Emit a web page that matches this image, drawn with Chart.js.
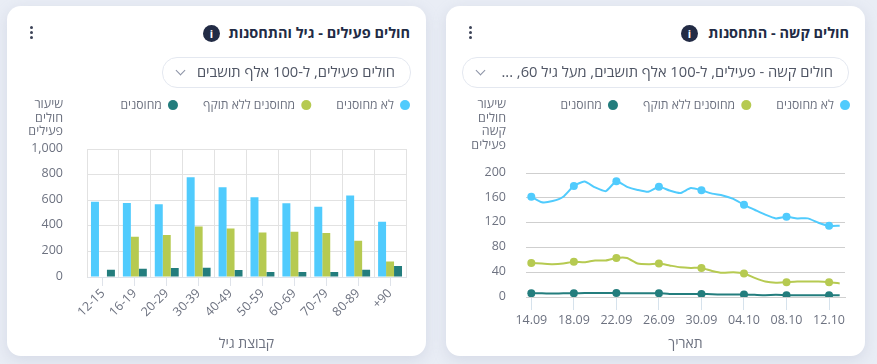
<!DOCTYPE html>
<html lang="he">
<head>
<meta charset="utf-8">
<script src="https://cdn.jsdelivr.net/npm/chart.js@4"></script>
<style>
html,body{margin:0;padding:0}
body{width:877px;height:364px;overflow:hidden;background:#e9edf5;font-family:"Open Sans",sans-serif;position:relative}
.card{position:absolute;top:6px;width:419px;height:350px;background:#fff;border-radius:14px;box-shadow:0 4px 14px rgba(160,170,195,.28)}
.abs{position:absolute}
.title{top:17px;font-size:14.5px;font-weight:700;color:#222b45;direction:rtl;white-space:nowrap;line-height:20px}
.info{top:19px;width:17px;height:17px;border-radius:50%;background:#222b45;color:#fff;font-size:11px;font-weight:700;line-height:17px;text-align:center}
.dot{width:3.4px;height:3.4px;border-radius:50%;background:#3d4458}
.pill{top:51px;height:29px;border:1px solid #e4e8f0;border-radius:15px;background:#fff;direction:rtl;color:#4f5564;font-size:14.7px;line-height:27px;white-space:nowrap;z-index:3}
.chev{width:6px;height:6px;border-right:1.3px solid #8b92a5;border-bottom:1.3px solid #8b92a5;transform:rotate(45deg);top:67px;z-index:4}
.ytitle{direction:rtl;text-align:right;color:#6d7280;font-size:12.5px;line-height:13.6px;top:97px;white-space:nowrap;z-index:5}
canvas{position:absolute;z-index:2}
</style>
</head>
<body>
<div class="card" style="left:7px"></div>
<div class="card" style="left:446px"></div>

<div class="abs title" style="right:467px;top:23px">חולים פעילים - גיל והתחסנות</div>
<div class="abs info" style="left:203px;top:25px">i</div>
<div class="abs dot" style="left:29.5px;top:26px"></div><div class="abs dot" style="left:29.5px;top:31px"></div><div class="abs dot" style="left:29.5px;top:36px"></div>
<div class="abs pill" style="left:162px;width:232px;padding:0 15px 0 0;top:57px">חולים פעילים, ל-100 אלף תושבים</div>
<div class="abs chev" style="left:177px;top:67px"></div>
<div class="abs ytitle" style="right:814px">שיעור<br>חולים<br>פעילים</div>

<div class="abs title" style="right:28px;top:23px">חולים קשה - התחסנות</div>
<div class="abs info" style="left:681px;top:25px">i</div>
<div class="abs dot" style="left:468.5px;top:26px"></div><div class="abs dot" style="left:468.5px;top:31px"></div><div class="abs dot" style="left:468.5px;top:36px"></div>
<div class="abs pill" style="left:462px;width:370px;padding:0 15px 0 0;top:57px">חולים קשה - פעילים, ל-100 אלף תושבים, מעל גיל 60, ...</div>
<div class="abs chev" style="left:477px;top:67px"></div>
<div class="abs ytitle" style="right:371px">שיעור<br>חולים<br>קשה<br>פעילים</div>

<canvas id="bars" style="left:0;top:74px" width="435" height="282"></canvas>
<canvas id="lines" style="left:440px;top:74px" width="435" height="282"></canvas>

<script>
const seriesNames = ['לא מחוסנים', 'מחוסנים ללא תוקף', 'מחוסנים'];

const ageGroups = ['12-15','16-19','20-29','30-39','40-49','50-59','60-69','70-79','80-89','90+'];
const activeUnvaccinated = [588,580,570,781,703,625,578,549,638,432];
const activeExpired = [0,315,328,396,380,349,354,344,284,122];
const activeVaccinated = [57,65,70,73,55,39,39,39,57,86];

const dates = ['14.09','15.09','16.09','17.09','18.09','19.09','20.09','21.09','22.09','23.09','24.09','25.09','26.09','27.09','28.09','29.09','30.09','01.10','02.10','03.10','04.10','05.10','06.10','07.10','08.10','09.10','10.10','11.10','12.10','13.10'];
const severeUnvaccinated = [162,153,155,162,179.5,186.5,177,171,187,178,173,170,178,172,168,176,172.5,167,164,158.5,149,141,133,127,129.5,127,127,120,115,115];
const severeExpired = [55,54,53,54,57,56,59,59,63,63,54,53,54,51,48,47,47,42,39,40,38,31,25,23,24,25,25,25,24,22];
const severeVaccinated = [6,6,5.5,6,6,6.5,6.5,6.5,6.5,6,6,6,6,5,5,5,5,4.5,4,4,4,3.5,3,3.5,3,3,3,3,3,3];

const BLUE='#50cbfd', GREEN='#b6ca51', TEAL='#237d7d';
const TICK='#6d7280';
const FAMILY='"Open Sans", sans-serif';
Chart.defaults.font.family = FAMILY;
Chart.defaults.animation = false;

function legendOptions(){
  return {
    display:true, position:'top', align:'start', rtl:true, textDirection:'rtl',
    labels:{usePointStyle:true, pointStyle:'circle', boxWidth:10, boxHeight:7.1, padding:25, color:TICK, font:{size:12.2}}
  };
}
function legendGap(extra){
  return {id:'legendGap', beforeInit(chart){
    const fit = chart.legend.fit;
    chart.legend.fit = function(){ fit.call(this); this.height += extra; };
  }};
}
function plotInset(width){
  return {type:'linear', position:'right', display:true, grid:{display:false}, border:{display:false},
    ticks:{display:false}, afterFit(s){ s.width = width; }};
}

new Chart(document.getElementById('bars'), {
  type:'bar',
  data:{labels:ageGroups, datasets:[
    {label:seriesNames[0], data:activeUnvaccinated, backgroundColor:BLUE, borderWidth:0},
    {label:seriesNames[1], data:activeExpired, backgroundColor:GREEN, borderWidth:0},
    {label:seriesNames[2], data:activeVaccinated, backgroundColor:TEAL, borderWidth:0}
  ]},
  options:{
    responsive:false, locale:'en-US',
    layout:{padding:0},
    plugins:{legend:legendOptions(), tooltip:{enabled:false}},
    scales:{
      x:{type:'category', position:'bottom', offset:true,
        grid:{offset:false, drawOnChartArea:false, drawTicks:true, tickLength:9, color:'#dfe3ea'},
        border:{color:'#dfe3ea'},
        ticks:{color:TICK, font:{size:12.5}, maxRotation:45, minRotation:45, autoSkip:false, padding:0},
        title:{display:true, text:'קבוצת גיל', color:TICK, font:{size:14}, padding:{top:0,bottom:4}},
        afterFit(s){ s.height = 79; }
      },
      xGrid:{type:'category', labels:ageGroups, position:'top', offset:true,
        grid:{offset:true, drawOnChartArea:true, drawTicks:false, color:'#e2e2e2'},
        border:{display:false}, ticks:{display:false},
        afterFit(s){ s.height = 0; }
      },
      y:{position:'left', min:0, max:1000,
        grid:{color:'#e2e2e2', drawTicks:false}, border:{color:'#e2e2e2'},
        ticks:{stepSize:200, color:TICK, font:{size:12.5}, padding:24, labelOffset:-1},
        afterFit(s){ s.width = 87; }
      },
      inset:plotInset(29)
    },
    datasets:{bar:{categoryPercentage:.75, barPercentage:1}}
  },
  plugins:[legendGap(28)]
});

new Chart(document.getElementById('lines'), {
  type:'line',
  data:{labels:dates, datasets:[
    {label:seriesNames[0], data:severeUnvaccinated, borderColor:BLUE, backgroundColor:BLUE},
    {label:seriesNames[1], data:severeExpired, borderColor:GREEN, backgroundColor:GREEN},
    {label:seriesNames[2], data:severeVaccinated, borderColor:TEAL, backgroundColor:TEAL}
  ]},
  options:{
    responsive:false, locale:'en-US',
    layout:{padding:0},
    elements:{
      line:{borderWidth:2, tension:.18},
      point:{radius:c=>c.dataIndex%4===0?4:0, borderWidth:0}
    },
    plugins:{legend:legendOptions(), tooltip:{enabled:false}},
    scales:{
      x:{type:'category', position:'bottom', offset:true,
        afterBuildTicks(s){ s.ticks = s.ticks.filter((t,i)=>i%4===0); },
        grid:{offset:false, drawOnChartArea:false, drawTicks:true, tickLength:13, color:'#d6e2ec'},
        border:{color:'#d0d0d0'},
        ticks:{color:TICK, font:{size:12.5}, maxRotation:0, minRotation:0, autoSkip:false, padding:3},
        title:{display:true, text:'תאריך', color:TICK, font:{size:14}, padding:{top:0,bottom:4}},
        afterFit(s){ s.height = 59; }
      },
      y:{position:'left', min:0, max:200,
        grid:{color:'#cfcfcf', drawTicks:false}, border:{display:false},
        ticks:{stepSize:40, color:TICK, font:{size:12.5}, padding:20, labelOffset:-1},
        afterFit(s){ s.width = 86; }
      },
      inset:plotInset(30)
    }
  },
  plugins:[legendGap(52)]
});
</script>
</body>
</html>
